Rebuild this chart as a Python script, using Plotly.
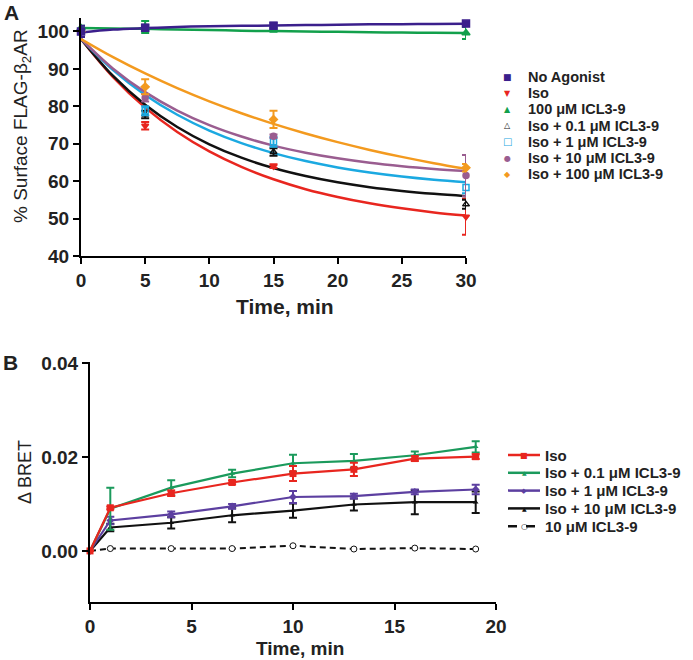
import plotly.graph_objects as go

W, H = 693, 660

# ---------------- Panel A data ----------------
time_a = [0, 5, 15, 30]
no_agonist = [100.0, 101.0, 101.5, 102.1]
no_agonist_err = [1.5, 0.8, 0.8, 0.4]
icl_100 = [100.9, 101.2, 100.5, 99.6]
icl_100_err = [0.6, 1.6, 0.6, 1.6]
iso_a = [100.0, 74.8, 64.0, 50.5]
iso_a_err = [0.0, 1.0, 0.5, 4.8]
iso_01_a = [100.0, 77.8, 67.8, 53.8]
iso_01_a_err = [0.0, 1.0, 1.0, 1.2]
iso_1_a = [100.0, 78.8, 70.5, 58.3]
iso_1_a_err = [0.0, 1.2, 1.3, 1.5]
iso_10_a = [100.0, 82.3, 72.0, 61.5]
iso_10_a_err = [0.0, 1.0, 0.5, 5.5]
iso_100_a = [100.0, 85.2, 76.5, 63.6]
iso_100_a_err = [0.0, 2.0, 2.3, 1.0]

# fitted curves
time_fit = [0, 2.5, 5, 7.5, 10, 12.5, 15, 17.5, 20, 22.5, 25, 27.5, 30]
fit_no_agonist = [99.7, 100.5, 100.9, 101.2, 101.4, 101.5, 101.6, 101.7, 101.8, 101.9, 101.95, 102.0, 102.05]
fit_icl_100 = [100.9, 100.8, 100.7, 100.5, 100.4, 100.2, 100.1, 100.0, 99.9, 99.8, 99.7, 99.65, 99.6]
fit_iso = [98.0, 87.8, 79.65, 73.15, 67.96, 63.82, 60.5, 57.86, 55.76, 54.07, 52.73, 51.65, 50.8]
fit_iso_01 = [98.0, 88.11, 80.43, 74.48, 69.86, 66.28, 63.5, 61.36, 59.69, 58.39, 57.39, 56.61, 56.0]
fit_iso_1 = [98.0, 89.67, 83.03, 77.74, 73.53, 70.18, 67.5, 65.37, 63.67, 62.32, 61.24, 60.38, 59.7]
fit_iso_10 = [98.0, 90.05, 83.79, 78.86, 74.97, 71.92, 69.5, 67.61, 66.11, 64.93, 64.01, 63.28, 62.7]
fit_iso_100 = [98.0, 93.15, 88.78, 84.86, 81.33, 78.16, 75.3, 72.74, 70.43, 68.35, 66.49, 64.81, 63.3]

x_ticks_a = [0, 5, 10, 15, 20, 25, 30]
y_ticks_a = [40, 50, 60, 70, 80, 90, 100]

legend_a = ["No Agonist", "Iso", "100 μM ICL3-9", "Iso + 0.1 μM ICL3-9",
            "Iso + 1 μM ICL3-9", "Iso + 10 μM ICL3-9", "Iso + 100 μM ICL3-9"]

# ---------------- Panel B data ----------------
time_b = [0, 1, 4, 7, 10, 13, 16, 19]
iso_b = [0.0, 0.0092, 0.0123, 0.0146, 0.0165, 0.0174, 0.0197, 0.0201]
iso_b_err = [0.0, 0.0003, 0.0006, 0.0004, 0.0016, 0.0014, 0.0005, 0.0005]
iso_01_b = [0.0, 0.0090, 0.0135, 0.0165, 0.0187, 0.0192, 0.0204, 0.0222]
iso_01_b_err = [0.0, 0.0045, 0.0016, 0.0008, 0.0018, 0.0015, 0.0008, 0.0012]
iso_1_b = [0.0, 0.0065, 0.0078, 0.0095, 0.0115, 0.0117, 0.0126, 0.0131]
iso_1_b_err = [0.0, 0.0008, 0.0006, 0.0005, 0.0013, 0.0005, 0.0005, 0.0010]
iso_10_b = [0.0, 0.0050, 0.0060, 0.0076, 0.0086, 0.0099, 0.0104, 0.0104]
iso_10_b_err = [0.0, 0.0008, 0.0012, 0.0015, 0.0015, 0.0013, 0.0026, 0.0023]
icl_10_b = [0.0, 0.0005, 0.0005, 0.0005, 0.0011, 0.0004, 0.0006, 0.0004]

x_ticks_b = [0, 5, 10, 15, 20]
y_ticks_b = [0.0, 0.02, 0.04]

legend_b = ["Iso", "Iso + 0.1 μM ICL3-9", "Iso + 1 μM ICL3-9",
            "Iso + 10 μM ICL3-9", "10 μM ICL3-9"]

# ---------------- styling ----------------
PURPLE = "#3b1f8c"
RED = "#e8261f"
GREEN = "#12a04c"
BLACK = "#111111"
CYAN = "#1ba9e1"
MAUVE = "#9a5d90"
ORANGE = "#f39a1f"
GREEN_B = "#1b9a5c"
PURPLE_B = "#5c3fa0"

FONT = "Liberation Sans, Arial, sans-serif"


def px(x):
    return x / W


def py(y):
    return 1 - y / H


fig = go.Figure()

# Panel A: fitted curves
curves_a = [
    (fit_iso, RED), (fit_iso_01, BLACK), (fit_iso_1, CYAN), (fit_iso_10, MAUVE),
    (fit_iso_100, ORANGE), (fit_icl_100, GREEN), (fit_no_agonist, PURPLE),
]
points_a = [
    (iso_a, iso_a_err, RED, "triangle-down", 6),
    (iso_01_a, iso_01_a_err, BLACK, "triangle-up-open", 6),
    (iso_1_a, iso_1_a_err, CYAN, "square-open", 6),
    (iso_10_a, iso_10_a_err, MAUVE, "circle", 6),
    (iso_100_a, iso_100_a_err, ORANGE, "diamond", 6),
    (icl_100, icl_100_err, GREEN, "triangle-up", 7),
    (no_agonist, no_agonist_err, PURPLE, "square", 7),
]
for ys, col in curves_a:
    fig.add_trace(go.Scatter(x=time_fit, y=ys, mode="lines", line=dict(color=col, width=2.5, shape="spline"),
                             xaxis="x", yaxis="y", showlegend=False, cliponaxis=False, hoverinfo="skip"))
for ys, err, col, sym, sz in points_a:
    fig.add_trace(go.Scatter(x=time_a, y=ys, mode="markers",
                             marker=dict(color=col, symbol=sym, size=sz, line=dict(color=col, width=1.5)),
                             error_y=dict(type="data", array=err, color=col, thickness=2, width=4),
                             xaxis="x", yaxis="y", showlegend=False, cliponaxis=False))

# Panel B
series_b = [
    (iso_10_b, iso_10_b_err, BLACK, "triangle-up", 5),
    (iso_1_b, iso_1_b_err, PURPLE_B, "diamond", 6),
    (iso_01_b, iso_01_b_err, GREEN_B, "triangle-up", 5),
    (iso_b, iso_b_err, RED, "square", 7),
]
fig.add_trace(go.Scatter(x=time_b, y=icl_10_b, mode="lines+markers",
                         line=dict(color=BLACK, width=2, dash="6px,4px"),
                         marker=dict(symbol="circle", size=6, color="white", line=dict(color=BLACK, width=1)),
                         xaxis="x2", yaxis="y2", showlegend=False, cliponaxis=False))
for ys, err, col, sym, sz in series_b:
    fig.add_trace(go.Scatter(x=time_b, y=ys, mode="lines+markers",
                             line=dict(color=col, width=2.2),
                             marker=dict(color=col, symbol=sym, size=sz),
                             error_y=dict(type="data", array=err, color=col, thickness=2, width=4),
                             xaxis="x2", yaxis="y2", showlegend=False, cliponaxis=False))

axis_common = dict(showline=True, linecolor="black", linewidth=2, ticks="outside", ticklen=6,
                   tickwidth=2, tickcolor="black", showgrid=False, zeroline=False, automargin=False,
                   tickfont=dict(family=FONT, size=19, color="#222222", weight="bold"))

fig.update_layout(
    width=W, height=H, margin=dict(l=0, r=0, t=0, b=0),
    paper_bgcolor="white", plot_bgcolor="white", showlegend=False,
    xaxis=dict(domain=[px(81), px(466)], range=[0, 30], tickvals=x_ticks_a, anchor="y", **axis_common),
    yaxis=dict(domain=[py(256), py(18)], range=[40, 103.6], tickvals=y_ticks_a, anchor="x", **axis_common),
    xaxis2=dict(domain=[px(90), px(496)], range=[0, 20], tickvals=x_ticks_b, anchor="y2", **axis_common),
    yaxis2=dict(domain=[py(602), py(362)], range=[-0.0109, 0.0403], tickvals=y_ticks_b,
                tickformat=".2f", anchor="x2", **axis_common),
)

ann = []
def text(x, y, s, size, bold=False, color="#222222", xanchor="center", textangle=0):
    ann.append(dict(x=px(x), y=py(y), xref="paper", yref="paper", text=s, showarrow=False,
                    xanchor=xanchor, yanchor="middle", textangle=textangle,
                    font=dict(family=FONT, size=size, color=color, weight="bold" if bold else "normal")))

# Panel labels and axis titles
text(11, 13, "A", 21, bold=True)
text(10, 362, "B", 21, bold=True)
text(22, 126, "% Surface FLAG-β<sub>2</sub>AR", 19, textangle=-90)
text(285, 306, "Time, min", 21, bold=True)
text(25, 472, "Δ BRET", 18, textangle=-90)
text(300, 648, "Time, min", 19, bold=True)

# Legend A
sym_a = [("■", PURPLE, 9), ("▼", RED, 8), ("▲", GREEN, 8), ("△", BLACK, 8),
         ("□", CYAN, 10), ("●", MAUVE, 8), ("◆", ORANGE, 8)]
for i, (lab, (ch, col, sz)) in enumerate(zip(legend_a, sym_a)):
    y = 77 + i * 16.2
    ann.append(dict(x=px(507), y=py(y), xref="paper", yref="paper", text=ch, showarrow=False,
                    xanchor="center", yanchor="middle", font=dict(family="DejaVu Sans", size=sz, color=col)))
    text(526, y, lab, 14.5, bold=True, xanchor="left")

# Legend B
shapes = []
sym_b = [(RED, "■", 8, "solid"), (GREEN_B, "▲", 6, "solid"), (PURPLE_B, "◆", 7, "solid"),
         (BLACK, "▲", 6, "solid"), (BLACK, "○", 8, "dash")]
for i, (lab, (col, ch, sz, dash)) in enumerate(zip(legend_b, sym_b)):
    y = 455 + i * 17.8
    shapes.append(dict(type="line", xref="paper", yref="paper", x0=px(508), x1=px(540), y0=py(y), y1=py(y),
                       line=dict(color=col, width=2.5, dash=dash)))
    ann.append(dict(x=px(524), y=py(y), xref="paper", yref="paper", text=ch, showarrow=False,
                    xanchor="center", yanchor="middle", font=dict(family="DejaVu Sans", size=sz, color=col)))
    text(543, y, lab, 15, bold=True, xanchor="left")

fig.update_layout(annotations=ann, shapes=shapes)
fig.write_html("out.html", config={"displayModeBar": False},
               post_script="document.body.style.margin='0';")
